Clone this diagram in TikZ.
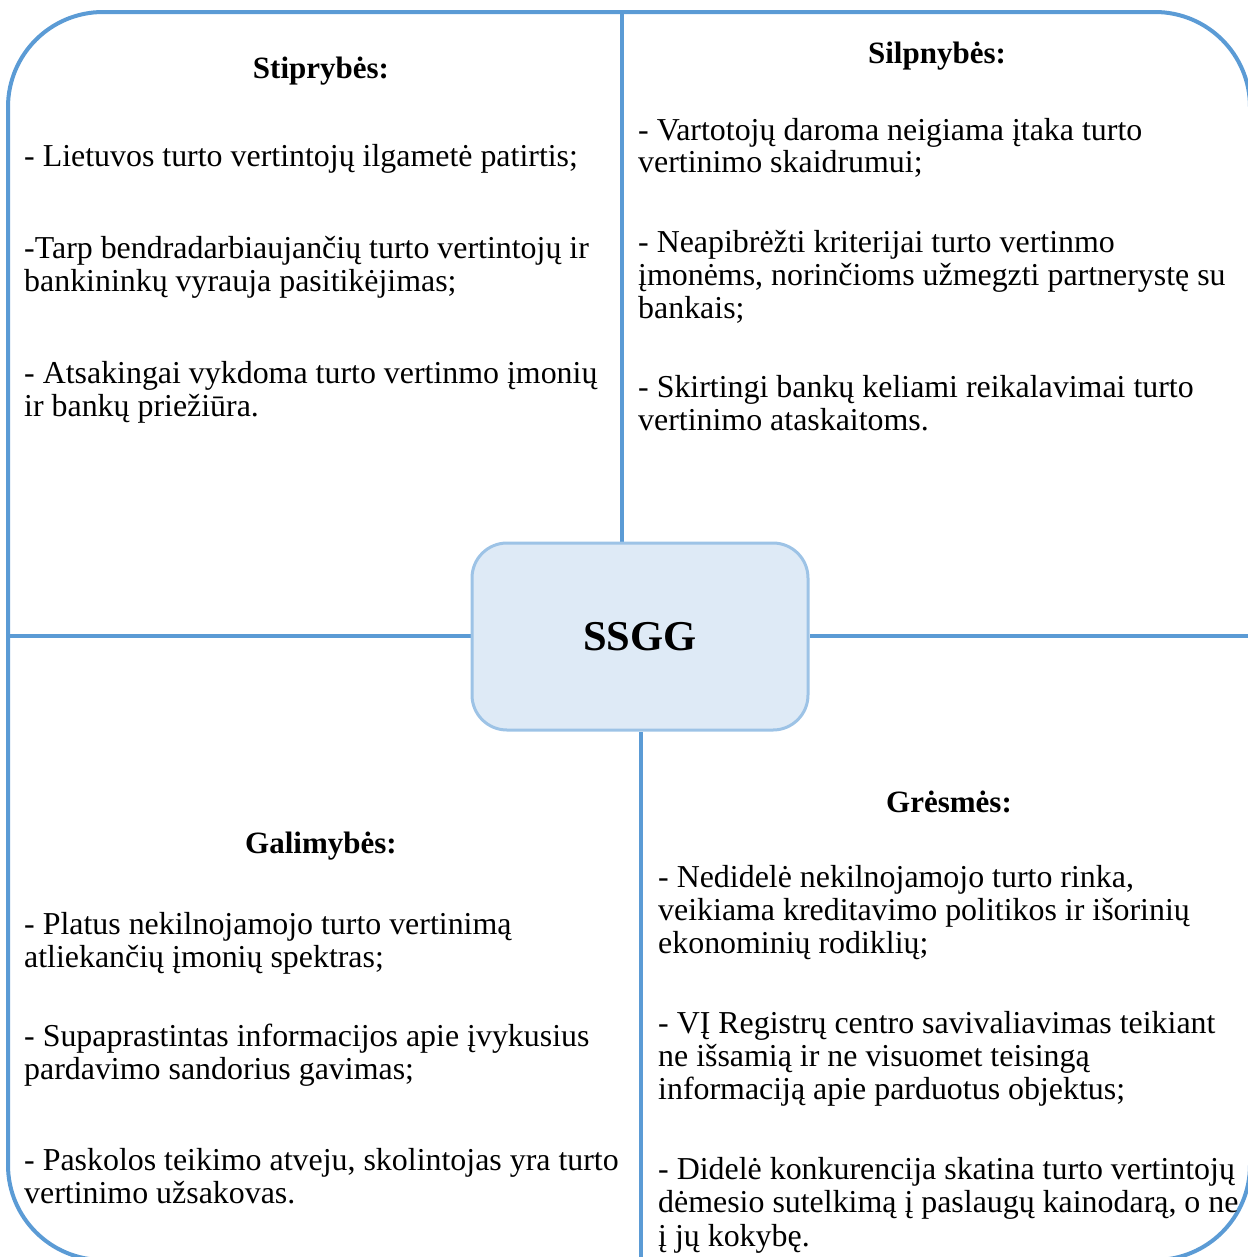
\documentclass[tikz,border=0pt]{standalone}
\usepackage{fontspec}
\setmainfont{Liberation Serif}
\usetikzlibrary{backgrounds}
\definecolor{frameblue}{HTML}{5B9BD5}
\definecolor{corefill}{HTML}{DEEAF6}
\definecolor{coreline}{HTML}{9DC3E6}
\tikzset{
  frame/.style={draw=frameblue, line width=4bp},
  divider/.style={draw=frameblue, line width=3.5bp},
  corebox/.style={draw=coreline, fill=corefill, line width=3bp, rounded corners=35bp,
    minimum width=336bp, minimum height=187bp, inner sep=0pt,
    font=\fontsize{42.5bp}{44bp}\selectfont\bfseries},
  heading/.style={anchor=base, inner sep=0pt, font=\fontsize{31bp}{33bp}\selectfont\bfseries},
  body/.style={anchor=base west, inner sep=0pt, font=\fontsize{31.9bp}{33bp}\selectfont},
}
\begin{document}
\begin{tikzpicture}[x=1bp, y=-1bp]
\useasboundingbox (0,0) rectangle (1248,1257);
\clip (0,0) rectangle (1248,1257);

% outer frame
\draw[frame, rounded corners=95bp] (8,12) rectangle (1250,1260);

% central box
\node[corebox] (core) at (640,636.5) {SSGG};

% dividers between the quadrants
\coordinate (topdiv) at (622,12);
\coordinate (botdiv) at (641,1260);
\coordinate (leftdiv) at (8,636);
\coordinate (rightdiv) at (1250,636);
\begin{scope}[on background layer]
  \draw[divider] (topdiv) -- (topdiv |- core.north);
  \draw[divider] (botdiv) -- (botdiv |- core.south);
  \draw[divider] (leftdiv) -- (leftdiv -| core.west);
  \draw[divider] (rightdiv) -- (rightdiv -| core.east);
\end{scope}

% headings
\node[heading] (hs) at (321,78) {Stiprybės:};
\node[heading] (hw) at (937,63) {Silpnybės:};
\node[heading] (ho) at (321,853) {Galimybės:};
\node[heading] (ht) at (949,812) {Grėsmės:};

% strengths
\node[body] (s1) at (24,166) {- Lietuvos turto vertintojų ilgametė patirtis;};
\node[body] (s2a) at (24,258) {-Tarp bendradarbiaujančių turto vertintojų ir};
\node[body] (s2b) at (24,291) {bankininkų vyrauja pasitikėjimas;};
\node[body] (s3a) at (24,383) {- Atsakingai vykdoma turto vertinmo įmonių};
\node[body] (s3b) at (24,416) {ir bankų priežiūra.};

% weaknesses
\node[body] (w1a) at (638,140) {- Vartotojų daroma neigiama įtaka turto};
\node[body] (w1b) at (638,172) {vertinimo skaidrumui;};
\node[body] (w2a) at (638,252) {- Neapibrėžti kriterijai turto vertinmo};
\node[body] (w2b) at (638,285) {įmonėms, norinčioms užmegzti partnerystę su};
\node[body] (w2c) at (638,318) {bankais;};
\node[body] (w3a) at (638,397) {- Skirtingi bankų keliami reikalavimai turto};
\node[body] (w3b) at (638,430) {vertinimo ataskaitoms.};

% opportunities
\node[body] (o1a) at (24,934) {- Platus nekilnojamojo turto vertinimą};
\node[body] (o1b) at (24,967) {atliekančių įmonių spektras;};
\node[body] (o2a) at (24,1046) {- Supaprastintas informacijos apie įvykusius};
\node[body] (o2b) at (24,1079) {pardavimo sandorius gavimas;};
\node[body] (o3a) at (24,1170) {- Paskolos teikimo atveju, skolintojas yra turto};
\node[body] (o3b) at (24,1203) {vertinimo užsakovas.};

% threats
\node[body] (t1a) at (658,887) {- Nedidelė nekilnojamojo turto rinka,};
\node[body] (t1b) at (658,920) {veikiama kreditavimo politikos ir išorinių};
\node[body] (t1c) at (658,953) {ekonominių rodiklių;};
\node[body] (t2a) at (658,1033) {- VĮ Registrų centro savivaliavimas teikiant};
\node[body] (t2b) at (658,1066) {ne išsamią ir ne visuomet teisingą};
\node[body] (t2c) at (658,1099) {informaciją apie parduotus objektus;};
\node[body] (t3a) at (658,1179) {- Didelė konkurencija skatina turto vertintojų};
\node[body] (t3b) at (658,1212) {dėmesio sutelkimą į paslaugų kainodarą, o ne};
\node[body] (t3c) at (658,1246) {į jų kokybę.};
\end{tikzpicture}
\end{document}
